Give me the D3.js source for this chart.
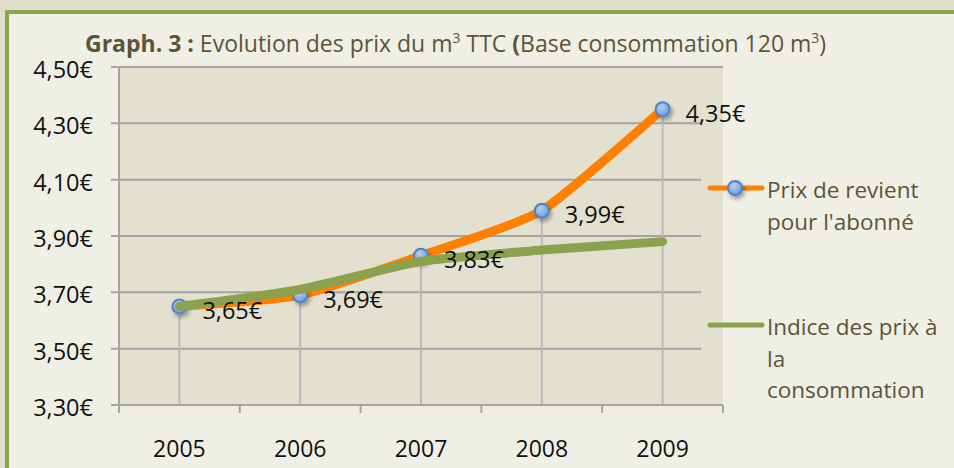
<!DOCTYPE html>
<html>
<head>
<meta charset="utf-8">
<script src="https://cdn.jsdelivr.net/npm/d3@7"></script>
<style>
  body { margin: 0; background: #f0efe6; overflow: hidden; }
  svg { display: block; }
  text { font-family: "Open Sans", sans-serif; }
</style>
</head>
<body>
<div id="vis"></div>
<script>
var years = ['2005', '2006', '2007', '2008', '2009'];
var prixRevient = [3.65, 3.69, 3.83, 3.99, 4.35];
var indicePrix = [3.65, 3.71, 3.81, 3.85, 3.88];
var yTicks = [3.30, 3.50, 3.70, 3.90, 4.10, 4.30, 4.50];
var legendLabels = [
  ['Prix de revient', "pour l'abonné"],
  ['Indice des prix à', 'la', 'consommation']
];

var width = 954;
var height = 468;
var plot = { left: 119, right: 723, top: 67, bottom: 405 };
var gridRight = 701;

var fmt = function (v) { return v.toFixed(2).replace('.', ',') + '€'; };

var svg = d3.select('#vis').append('svg')
  .attr('width', width)
  .attr('height', height);

var defs = svg.append('defs');
var shadow = defs.append('filter').attr('id', 'shadow')
  .attr('x', '-50%').attr('y', '-50%').attr('width', '200%').attr('height', '200%');
shadow.append('feDropShadow')
  .attr('dx', 2).attr('dy', 3).attr('stdDeviation', 2)
  .attr('flood-color', '#000').attr('flood-opacity', 0.35);
var grad = defs.append('radialGradient').attr('id', 'ball')
  .attr('cx', '40%').attr('cy', '35%').attr('r', '65%');
grad.append('stop').attr('offset', '0%').attr('stop-color', '#b6d0f2');
grad.append('stop').attr('offset', '100%').attr('stop-color', '#6f9fdc');

// frame: beige outside, panel with green top and left border
svg.append('rect')
  .attr('width', width).attr('height', height)
  .attr('fill', '#e2ddc8');
svg.append('rect')
  .attr('x', 7).attr('y', 12)
  .attr('width', width - 7).attr('height', height - 12)
  .attr('fill', '#f0efe6');
svg.append('path')
  .attr('d', 'M7,' + height + 'V12H' + width)
  .attr('fill', 'none')
  .attr('stroke', '#8aa64f')
  .attr('stroke-width', 4);

// plot background
svg.append('rect')
  .attr('x', plot.left).attr('y', plot.top)
  .attr('width', plot.right - plot.left).attr('height', plot.bottom - plot.top)
  .attr('fill', '#e3e0cf');

var x = d3.scaleBand().domain(years).range([plot.left, plot.right]);
var y = d3.scaleLinear().domain([3.30, 4.50]).range([plot.bottom, plot.top]);
var cx = function (i) { return x(years[i]) + x.bandwidth() / 2; };

// horizontal gridlines
svg.selectAll('.grid')
  .data(yTicks)
  .enter().append('line')
  .attr('class', 'grid')
  .attr('x1', plot.left - 8)
  .attr('x2', function (d) { return d === 4.50 ? plot.right : gridRight; })
  .attr('y1', function (d) { return y(d); })
  .attr('y2', function (d) { return y(d); })
  .attr('stroke', '#a3a3a3')
  .attr('stroke-width', 2);

// drop lines
svg.selectAll('.drop')
  .data(prixRevient)
  .enter().append('line')
  .attr('class', 'drop')
  .attr('x1', function (d, i) { return cx(i); })
  .attr('x2', function (d, i) { return cx(i); })
  .attr('y1', function (d) { return y(d); })
  .attr('y2', plot.bottom)
  .attr('stroke', '#b9b9b9')
  .attr('stroke-width', 2);

// y axis labels
var yAxis = svg.append('g')
  .attr('transform', 'translate(' + plot.left + ',0)')
  .call(d3.axisLeft(y).tickValues(yTicks).tickSize(0).tickPadding(26).tickFormat(fmt));
yAxis.select('.domain').remove();
yAxis.selectAll('text')
  .attr('dy', '0.45em')
  .attr('font-size', 23.5)
  .attr('fill', '#111')
  .style('font-family', '"Open Sans", sans-serif');

// axis lines
svg.append('line')
  .attr('x1', plot.left).attr('x2', plot.left)
  .attr('y1', plot.top).attr('y2', plot.bottom + 8)
  .attr('stroke', '#a3a3a3').attr('stroke-width', 2);
svg.append('line')
  .attr('x1', plot.left - 8).attr('x2', plot.right)
  .attr('y1', plot.bottom).attr('y2', plot.bottom)
  .attr('stroke', '#a3a3a3').attr('stroke-width', 2);

var bounds = years.map(function (d) { return x(d); }).concat([plot.right]);
svg.selectAll('.xtick')
  .data(bounds)
  .enter().append('line')
  .attr('x1', function (d) { return d; })
  .attr('x2', function (d) { return d; })
  .attr('y1', plot.bottom).attr('y2', plot.bottom + 8)
  .attr('stroke', '#a3a3a3').attr('stroke-width', 2);

svg.selectAll('.xlabel')
  .data(years)
  .enter().append('text')
  .attr('x', function (d, i) { return cx(i); })
  .attr('y', 457)
  .attr('text-anchor', 'middle')
  .attr('font-size', 23)
  .attr('fill', '#111')
  .text(function (d) { return d; });

// series
var line = d3.line()
  .x(function (d, i) { return cx(i); })
  .y(function (d) { return y(d); })
  .curve(d3.curveCardinal.tension(0.45));

svg.append('path')
  .datum(prixRevient)
  .attr('d', line)
  .attr('fill', 'none')
  .attr('stroke', '#ff7f00')
  .attr('stroke-width', 9)
  .attr('stroke-linecap', 'round');

svg.selectAll('.marker')
  .data(prixRevient)
  .enter().append('circle')
  .attr('class', 'marker')
  .attr('cx', function (d, i) { return cx(i); })
  .attr('cy', function (d) { return y(d); })
  .attr('r', 7)
  .attr('fill', 'url(#ball)')
  .attr('stroke', '#4f83c4')
  .attr('stroke-width', 2)
  .attr('filter', 'url(#shadow)');

svg.append('path')
  .datum(indicePrix)
  .attr('d', line)
  .attr('fill', 'none')
  .attr('stroke', '#8aa14e')
  .attr('stroke-width', 9)
  .attr('stroke-linecap', 'round');

// value labels
svg.selectAll('.vlabel')
  .data(prixRevient)
  .enter().append('text')
  .attr('x', function (d, i) { return cx(i) + 23; })
  .attr('y', function (d) { return y(d) + 4; })
  .attr('dy', '0.36em')
  .attr('font-size', 23.5)
  .attr('fill', '#111')
  .text(fmt);

// title
var title = svg.append('text')
  .attr('x', 85).attr('y', 52)
  .attr('font-size', 23)
  .attr('fill', '#5b5438');
title.append('tspan').attr('font-weight', 'bold').text('Graph. 3 :');
title.append('tspan').text(' Evolution des prix du m');
title.append('tspan').attr('font-size', 14).attr('dy', -9).text('3');
title.append('tspan').attr('dy', 9).text(' TTC ');
title.append('tspan').attr('font-weight', 'bold').text('(');
title.append('tspan').text('Base consommation 120 m');
title.append('tspan').attr('font-size', 14).attr('dy', -9).text('3');
title.append('tspan').attr('dy', 9).text(')');

// legend
var legendY = [188, 325];
var legendColors = ['#ff7f00', '#8aa14e'];
var legend = svg.selectAll('.legend')
  .data(legendLabels)
  .enter().append('g')
  .attr('class', 'legend')
  .attr('transform', function (d, i) { return 'translate(0,' + legendY[i] + ')'; });

legend.append('line')
  .attr('x1', 710).attr('x2', 762)
  .attr('stroke', function (d, i) { return legendColors[i]; })
  .attr('stroke-width', 5)
  .attr('stroke-linecap', 'round');

legend.filter(function (d, i) { return i === 0; })
  .append('circle')
  .attr('cx', 735).attr('r', 7)
  .attr('fill', 'url(#ball)')
  .attr('stroke', '#4f83c4')
  .attr('stroke-width', 2)
  .attr('filter', 'url(#shadow)');

legend.selectAll('text')
  .data(function (d) { return d; })
  .enter().append('text')
  .attr('x', 767)
  .attr('y', function (d, i) { return 10 + i * 31.5; })
  .attr('font-size', 22.5)
  .attr('fill', '#5b5438')
  .text(function (d) { return d; });
</script>
</body>
</html>
